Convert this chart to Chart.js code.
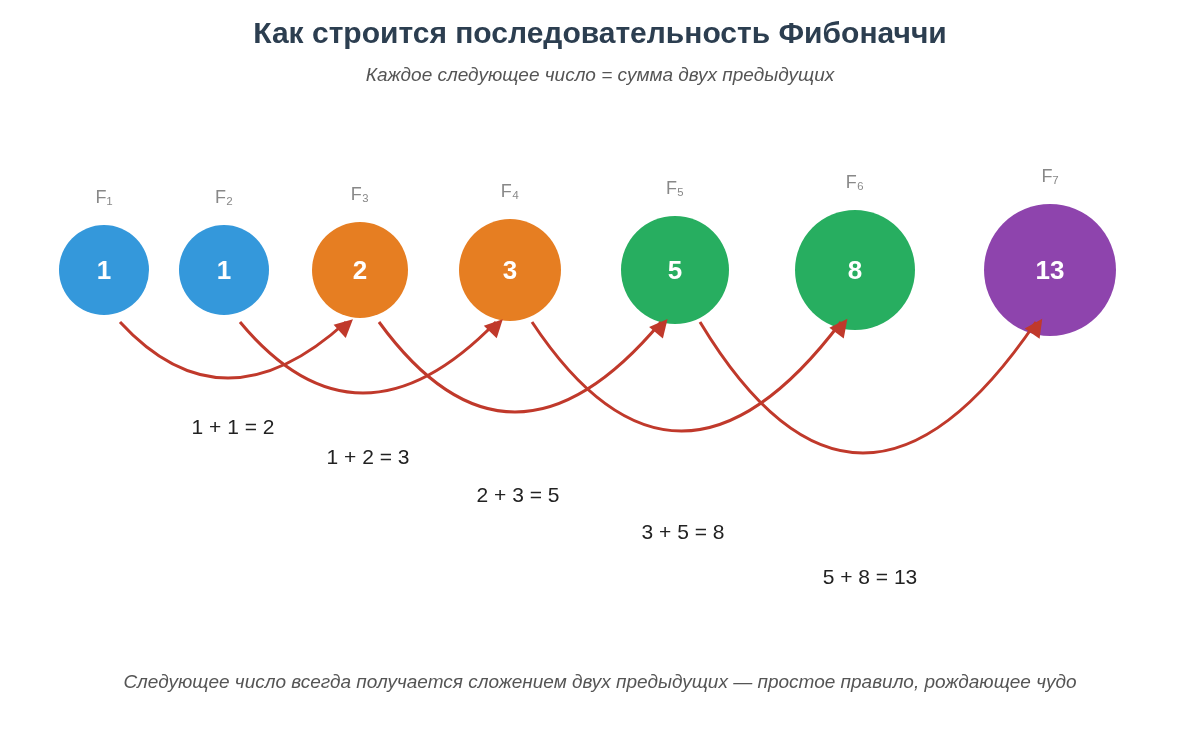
<!DOCTYPE html><html><head><meta charset="utf-8"><script src="https://cdn.jsdelivr.net/npm/chart.js@4"></script>
<style>html,body{margin:0;background:#fff}#w{width:1200px;height:750px}</style></head><body><div id="w"><canvas id="c"></canvas></div>
<script>
const values=[1,1,2,3,5,8,13];
const labels=['F₁','F₂','F₃','F₄','F₅','F₆','F₇'];
const xs=[104,224,360,510,675,855,1050];
const radii=[45,45,48,51,54,60,66];
const colors=['#3498db','#3498db','#e67e22','#e67e22','#27ae60','#27ae60','#8e44ad'];
const equations=['1 + 1 = 2','1 + 2 = 3','2 + 3 = 5','3 + 5 = 8','5 + 8 = 13'];
const eqPos=[[233,428],[368,458],[518,496],[683,533],[870,578]];
const arcDepth=[378,393,412,431,453];
const CY=270;
const overlay={id:'ov',afterDatasetsDraw(ch){
 const c=ch.ctx,X=ch.scales.x,Y=ch.scales.y;
 c.save();c.textAlign='center';c.textBaseline='middle';
 c.fillStyle='#2c3e50';c.font='bold 30px "Liberation Sans",Arial';c.fillText('Как строится последовательность Фибоначчи',600,35);
 c.fillStyle='#555';c.font='italic 19px "Liberation Sans",Arial';c.fillText('Каждое следующее число = сумма двух предыдущих',600,76);
 c.fillText('Следующее число всегда получается сложением двух предыдущих — простое правило, рождающее чудо',600,683);
 values.forEach((v,i)=>{const px=X.getPixelForValue(xs[i]),py=Y.getPixelForValue(CY);
  c.fillStyle='#fff';c.font='bold 26px "Liberation Sans",Arial';c.fillText(String(v),px,py+2);
  c.fillStyle='#888';c.font='18px "Liberation Sans",Arial';c.fillText(labels[i],px,py-radii[i]-27);});
 c.strokeStyle='#c0392b';c.fillStyle='#c0392b';c.lineWidth=3;
 for(let i=0;i<5;i++){
  const sx=X.getPixelForValue(xs[i])+16+(i>=2?(i-1)*3:0),ex=X.getPixelForValue(xs[i+2])-14,y0=Y.getPixelForValue(322);
  const cyp=2*Y.getPixelForValue(arcDepth[i])-y0,cxp=(sx+ex)/2-10;
  c.beginPath();c.moveTo(sx,y0);c.quadraticCurveTo(cxp,cyp,ex,y0);c.stroke();
  const a=Math.atan2(y0-cyp,ex-cxp);
  c.save();c.translate(ex+4,y0);c.rotate(a);c.beginPath();c.moveTo(4,0);c.lineTo(-14,-9);c.lineTo(-14,9);c.closePath();c.fill();c.restore();
 }
 c.fillStyle='#222';c.font='21px "Liberation Sans",Arial';
 equations.forEach((e,i)=>c.fillText(e,X.getPixelForValue(eqPos[i][0]),Y.getPixelForValue(eqPos[i][1])));
 c.restore();}};
new Chart(document.getElementById('c'),{type:'bubble',
 data:{datasets:[{data:values.map((v,i)=>({x:xs[i],y:CY,r:radii[i]})),backgroundColor:colors,borderWidth:0,hoverRadius:0,clip:false}]},
 options:{responsive:true,maintainAspectRatio:false,animation:false,layout:{padding:0},
  plugins:{legend:{display:false},tooltip:{enabled:false}},
  scales:{x:{type:'linear',min:66,max:1134,display:false},y:{type:'linear',min:66,max:684,reverse:true,display:false}}},
 plugins:[overlay]});
</script></body></html>
